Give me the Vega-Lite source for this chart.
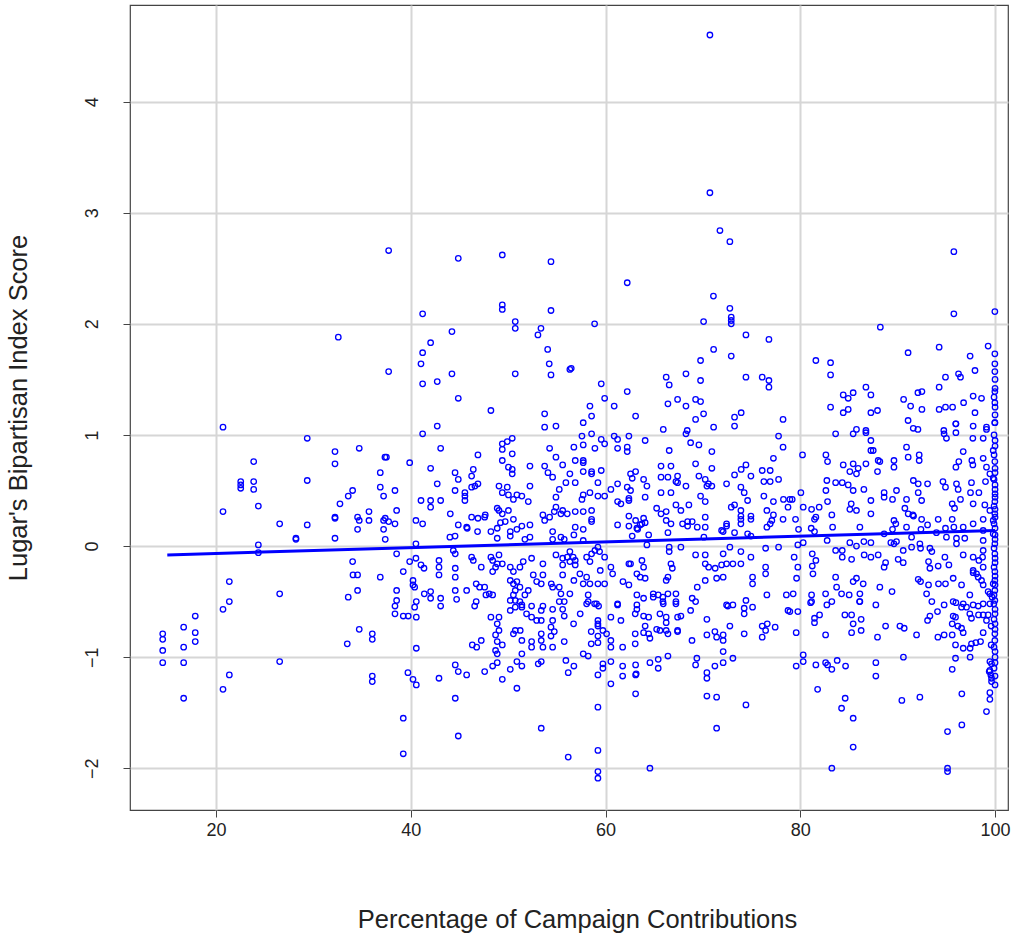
{
  "$schema": "https://vega.github.io/schema/vega-lite/v6.json",
  "width": 878,
  "height": 805,
  "autosize": "none",
  "padding": {"left": 130, "top": 5, "right": 13, "bottom": 129},
  "background": "white",
  "datasets": {
    "fit": [{"x": 15, "y": -0.08}, {"x": 100, "y": 0.14}],
    "pts": [
      {"x":14.53,"y":-0.79},{"x":14.53,"y":-0.84},{"x":14.53,"y":-0.94},{"x":14.53,"y":-1.05},{"x":16.68,"y":-0.73},{"x":16.68,"y":-0.91},{"x":16.68,"y":-1.05},{"x":16.68,"y":-1.37},{"x":17.87,"y":-0.63},{"x":17.87,"y":-0.78},{"x":17.87,"y":-0.86},{"x":20.72,"y":-0.57},{"x":21.37,"y":-0.5},{"x":21.37,"y":-1.16},{"x":20.72,"y":-1.29},{"x":26.54,"y":-1.04},{"x":33.48,"y":-0.88},
      {"x":20.72,"y":1.07},{"x":29.37,"y":0.97},{"x":32.22,"y":0.85},{"x":32.22,"y":0.74},{"x":23.87,"y":0.76},{"x":22.54,"y":0.58},{"x":22.54,"y":0.55},{"x":22.54,"y":0.52},{"x":23.87,"y":0.58},{"x":23.87,"y":0.51},{"x":29.37,"y":0.59},{"x":24.35,"y":0.36},{"x":20.72,"y":0.31},{"x":32.73,"y":0.38},{"x":33.58,"y":0.45},{"x":26.54,"y":0.2},{"x":29.37,"y":0.19},{"x":32.22,"y":0.26},{"x":32.22,"y":0.25},{"x":28.21,"y":0.07},{"x":28.21,"y":0.06},{"x":32.22,"y":0.07},{"x":24.35,"y":0.01},{"x":24.35,"y":-0.06},{"x":21.37,"y":-0.32},{"x":26.54,"y":-0.43},{"x":33.58,"y":-0.46},{"x":32.56,"y":1.88},
      {"x":70.72,"y":4.6},{"x":70.72,"y":3.18},{"x":71.75,"y":2.84},{"x":72.77,"y":2.74},
      {"x":37.73,"y":2.66},{"x":44.88,"y":2.59},{"x":49.4,"y":2.62},{"x":54.4,"y":2.56},{"x":41.22,"y":2.09},{"x":49.4,"y":2.17},{"x":49.4,"y":2.13},{"x":54.4,"y":2.12},{"x":50.73,"y":2.02},{"x":50.73,"y":1.96},{"x":53.37,"y":1.96},{"x":53.06,"y":1.9},{"x":44.23,"y":1.93},{"x":42.04,"y":1.83},{"x":41.22,"y":1.74},{"x":41.05,"y":1.64},{"x":54.06,"y":1.77},{"x":54.22,"y":1.64},{"x":56.34,"y":1.59},{"x":37.73,"y":1.57},{"x":44.23,"y":1.55},{"x":50.73,"y":1.55},{"x":54.4,"y":1.54},{"x":41.22,"y":1.46},{"x":42.72,"y":1.48},{"x":44.88,"y":1.33},{"x":48.23,"y":1.22},{"x":53.75,"y":1.19},{"x":42.72,"y":1.08},{"x":53.75,"y":1.07},{"x":54.91,"y":1.08},
      {"x":62.23,"y":2.37},{"x":71.08,"y":2.25},{"x":72.77,"y":2.14},{"x":72.91,"y":2.06},{"x":72.91,"y":2.03},{"x":72.91,"y":2.0},{"x":70.07,"y":2.02},{"x":58.88,"y":2.0},{"x":74.42,"y":1.9},{"x":76.78,"y":1.86},{"x":71.1,"y":1.77},{"x":72.91,"y":1.71},{"x":69.76,"y":1.67},{"x":56.48,"y":1.6},{"x":66.23,"y":1.52},{"x":68.26,"y":1.55},{"x":69.76,"y":1.49},{"x":66.54,"y":1.45},{"x":74.42,"y":1.52},{"x":76.09,"y":1.52},{"x":76.78,"y":1.49},{"x":76.78,"y":1.43},{"x":59.56,"y":1.46},{"x":59.91,"y":1.33},{"x":62.23,"y":1.39},{"x":58.4,"y":1.26},{"x":58.57,"y":1.17},{"x":57.71,"y":1.11},{"x":60.89,"y":1.26},{"x":63.09,"y":1.17},{"x":66.41,"y":1.28},{"x":67.4,"y":1.32},{"x":68.26,"y":1.26},{"x":69.25,"y":1.32},{"x":69.76,"y":1.3},{"x":70.07,"y":1.19},{"x":69.25,"y":1.14},{"x":73.25,"y":1.16},{"x":73.93,"y":1.2},{"x":73.25,"y":1.08},{"x":78.23,"y":1.14},{"x":65.93,"y":1.05},{"x":68.39,"y":1.04},{"x":71.1,"y":1.07},
      {"x":95.77,"y":2.65},{"x":95.77,"y":2.09},{"x":99.98,"y":2.11},{"x":88.22,"y":1.97},{"x":81.6,"y":1.67},{"x":83.11,"y":1.65},{"x":83.11,"y":1.54},{"x":91.07,"y":1.74},{"x":94.26,"y":1.79},{"x":97.44,"y":1.71},{"x":99.29,"y":1.8},{"x":99.98,"y":1.73},{"x":99.98,"y":1.64},{"x":99.98,"y":1.57},{"x":97.94,"y":1.58},{"x":94.91,"y":1.52},{"x":96.25,"y":1.55},{"x":96.45,"y":1.52},{"x":94.26,"y":1.43},{"x":86.74,"y":1.43},{"x":84.41,"y":1.36},{"x":84.92,"y":1.33},{"x":85.43,"y":1.38},{"x":87.25,"y":1.36},{"x":92.08,"y":1.38},{"x":92.49,"y":1.39},{"x":90.61,"y":1.32},{"x":91.33,"y":1.26},{"x":92.49,"y":1.23},{"x":83.11,"y":1.25},{"x":84.41,"y":1.2},{"x":84.92,"y":1.23},{"x":87.25,"y":1.2},{"x":87.93,"y":1.22},{"x":94.26,"y":1.23},{"x":94.91,"y":1.25},{"x":95.64,"y":1.25},{"x":96.77,"y":1.29},{"x":97.75,"y":1.35},{"x":98.61,"y":1.33},{"x":97.94,"y":1.2},{"x":99.98,"y":1.39},{"x":99.98,"y":1.29},{"x":99.98,"y":1.11},{"x":91.07,"y":1.13},{"x":95.97,"y":1.1},{"x":97.75,"y":1.08},{"x":99.12,"y":1.07},{"x":85.77,"y":1.05},{"x":86.74,"y":1.04},{"x":91.6,"y":1.06},{"x":92.08,"y":1.05},{"x":94.74,"y":1.04},
      {"x":41.22,"y":1.01},{"x":34.71,"y":0.88},{"x":37.35,"y":0.8},{"x":37.5,"y":0.8},{"x":43.07,"y":0.88},{"x":39.89,"y":0.75},{"x":36.87,"y":0.66},{"x":42.04,"y":0.7},{"x":46.9,"y":0.82},{"x":49.4,"y":0.92},{"x":49.91,"y":0.94},{"x":50.42,"y":0.97},{"x":49.4,"y":0.87},{"x":50.42,"y":0.83},{"x":49.4,"y":0.77},{"x":44.55,"y":0.66},{"x":44.88,"y":0.6},{"x":46.42,"y":0.69},{"x":46.25,"y":0.63},{"x":50.03,"y":0.71},{"x":50.42,"y":0.69},{"x":50.42,"y":0.65},{"x":52.24,"y":0.72},{"x":54.26,"y":0.88},{"x":54.91,"y":0.8},{"x":55.6,"y":0.73},{"x":53.75,"y":0.72},{"x":54.09,"y":0.66},{"x":54.57,"y":0.62},{"x":55.93,"y":0.57},{"x":42.72,"y":0.56},{"x":36.87,"y":0.53},{"x":37.21,"y":0.45},{"x":38.38,"y":0.5},{"x":34.03,"y":0.5},{"x":44.55,"y":0.5},{"x":45.56,"y":0.48},{"x":45.56,"y":0.45},{"x":46.25,"y":0.53},{"x":46.59,"y":0.54},{"x":46.9,"y":0.56},{"x":49.06,"y":0.54},{"x":49.91,"y":0.53},{"x":49.4,"y":0.48},{"x":50.03,"y":0.46},{"x":50.54,"y":0.42},{"x":50.9,"y":0.46},{"x":51.41,"y":0.45},{"x":52.24,"y":0.54},{"x":52.07,"y":0.4},{"x":55.25,"y":0.51},{"x":54.91,"y":0.44},{"x":54.91,"y":0.35},{"x":55.42,"y":0.29},{"x":41.05,"y":0.41},{"x":42.04,"y":0.41},{"x":42.04,"y":0.35},{"x":43.07,"y":0.41},{"x":45.56,"y":0.41},{"x":38.55,"y":0.32},{"x":35.71,"y":0.31},{"x":35.71,"y":0.23},{"x":34.54,"y":0.26},{"x":34.71,"y":0.23},{"x":34.54,"y":0.15},{"x":37.21,"y":0.23},{"x":37.38,"y":0.25},{"x":37.73,"y":0.22},{"x":37.21,"y":0.15},{"x":38.38,"y":0.2},{"x":37.38,"y":0.06},{"x":40.53,"y":0.23},{"x":41.22,"y":0.2},{"x":44.06,"y":0.29},{"x":44.88,"y":0.19},{"x":45.74,"y":0.17},{"x":45.8,"y":0.16},{"x":46.25,"y":0.26},{"x":46.9,"y":0.25},{"x":47.59,"y":0.26},{"x":47.65,"y":0.28},
      {"x":48.88,"y":0.34},{"x":49.06,"y":0.32},{"x":49.4,"y":0.29},{"x":50.03,"y":0.32},{"x":50.54,"y":0.24},{"x":49.7,"y":0.22},{"x":49.21,"y":0.21},{"x":48.88,"y":0.16},{"x":50.22,"y":0.13},{"x":50.9,"y":0.15},{"x":51.41,"y":0.18},{"x":52.24,"y":0.19},{"x":53.75,"y":0.23},{"x":54.26,"y":0.26},{"x":53.57,"y":0.28},{"x":54.74,"y":0.31},{"x":55.6,"y":0.32},{"x":56.07,"y":0.29},{"x":44.02,"y":0.08},{"x":44.55,"y":0.09},{"x":46.86,"y":0.13},{"x":48.23,"y":0.13},{"x":48.88,"y":0.07},{"x":50.22,"y":0.09},{"x":51.72,"y":0.06},{"x":52.24,"y":0.08},{"x":54.57,"y":0.13},{"x":54.57,"y":0.06},{"x":55.42,"y":0.08},{"x":55.76,"y":0.06},
      {"x":40.53,"y":0.02},{"x":38.55,"y":-0.07},{"x":34.03,"y":-0.14},{"x":39.89,"y":-0.14},{"x":40.53,"y":-0.11},{"x":41.05,"y":-0.17},{"x":41.36,"y":-0.2},{"x":42.9,"y":-0.13},{"x":42.9,"y":-0.19},{"x":42.9,"y":-0.26},{"x":44.37,"y":-0.04},{"x":44.57,"y":-0.07},{"x":44.57,"y":-0.2},{"x":44.57,"y":-0.28},{"x":46.25,"y":-0.1},{"x":46.42,"y":-0.13},{"x":47.24,"y":-0.19},{"x":48.23,"y":-0.1},{"x":48.41,"y":-0.13},{"x":49.06,"y":-0.08},{"x":48.41,"y":-0.23},{"x":48.71,"y":-0.19},{"x":48.88,"y":-0.16},{"x":49.4,"y":-0.16},{"x":50.22,"y":-0.19},{"x":50.54,"y":-0.23},{"x":51.21,"y":-0.19},{"x":51.55,"y":-0.14},{"x":52.41,"y":-0.11},{"x":53.57,"y":-0.16},{"x":54.91,"y":-0.08},{"x":55.6,"y":-0.11},{"x":55.6,"y":-0.17},{"x":56.07,"y":-0.1},{"x":55.6,"y":-0.26},{"x":52.58,"y":-0.26},{"x":53.57,"y":-0.26},{"x":34.07,"y":-0.26},{"x":34.54,"y":-0.26},{"x":34.54,"y":-0.4},{"x":36.87,"y":-0.28},{"x":39.23,"y":-0.23},{"x":40.23,"y":-0.31},{"x":40.23,"y":-0.35},{"x":40.4,"y":-0.37},{"x":38.55,"y":-0.4},{"x":38.55,"y":-0.49},{"x":38.38,"y":-0.54},{"x":41.39,"y":-0.43},{"x":42.04,"y":-0.41},{"x":42.04,"y":-0.47},{"x":43.07,"y":-0.47},{"x":43.07,"y":-0.54},{"x":44.57,"y":-0.4},{"x":44.71,"y":-0.48},{"x":45.74,"y":-0.4},{"x":46.72,"y":-0.34},{"x":47.07,"y":-0.37},{"x":47.59,"y":-0.37},{"x":48.06,"y":-0.43},{"x":48.41,"y":-0.44},{"x":47.72,"y":-0.44},{"x":46.72,"y":-0.5},{"x":46.56,"y":-0.54},
      {"x":50.22,"y":-0.31},{"x":50.54,"y":-0.34},{"x":50.9,"y":-0.32},{"x":51.21,"y":-0.37},{"x":50.73,"y":-0.4},{"x":50.54,"y":-0.44},{"x":50.22,"y":-0.49},{"x":50.73,"y":-0.49},{"x":51.21,"y":-0.5},{"x":51.72,"y":-0.44},{"x":51.41,"y":-0.53},{"x":52.07,"y":-0.4},{"x":52.93,"y":-0.32},{"x":53.4,"y":-0.34},{"x":54.43,"y":-0.34},{"x":54.57,"y":-0.37},{"x":55.25,"y":-0.37},{"x":55.42,"y":-0.43},{"x":55.76,"y":-0.5},{"x":55.25,"y":-0.5},{"x":53.57,"y":-0.54},{"x":52.41,"y":-0.54},
      {"x":38.38,"y":-0.61},{"x":39.23,"y":-0.63},{"x":39.74,"y":-0.63},{"x":40.4,"y":-0.55},{"x":40.57,"y":-0.64},{"x":40.57,"y":-0.5},{"x":48.23,"y":-0.64},{"x":49.06,"y":-0.64},{"x":48.88,"y":-0.7},{"x":49.06,"y":-0.76},{"x":48.71,"y":-0.8},{"x":48.88,"y":-0.86},{"x":49.4,"y":-0.89},{"x":46.32,"y":-0.89},{"x":46.77,"y":-0.91},{"x":47.24,"y":-0.85},{"x":48.71,"y":-0.94},{"x":48.88,"y":-0.97},{"x":48.41,"y":-1.08},{"x":48.88,"y":-1.05},{"x":50.22,"y":-0.58},{"x":50.73,"y":-0.55},{"x":51.41,"y":-0.55},{"x":51.89,"y":-0.61},{"x":52.41,"y":-0.64},{"x":52.93,"y":-0.67},{"x":53.4,"y":-0.67},{"x":53.4,"y":-0.58},{"x":54.57,"y":-0.57},{"x":54.57,"y":-0.67},{"x":54.4,"y":-0.73},{"x":54.74,"y":-0.77},{"x":54.4,"y":-0.81},{"x":53.4,"y":-0.79},{"x":53.4,"y":-0.85},{"x":53.57,"y":-0.91},{"x":52.41,"y":-0.86},{"x":52.41,"y":-0.91},{"x":51.41,"y":-0.85},{"x":50.73,"y":-0.76},{"x":51.24,"y":-0.76},{"x":50.54,"y":-0.79},{"x":54.57,"y":-0.91},{"x":55.76,"y":-0.86},{"x":55.6,"y":-0.57},{"x":55.76,"y":-0.63},{"x":34.71,"y":-0.75},{"x":36.05,"y":-0.79},{"x":36.05,"y":-0.84},{"x":40.57,"y":-0.92},{"x":44.57,"y":-1.07},{"x":44.88,"y":-1.13},{"x":45.74,"y":-1.16},{"x":47.59,"y":-1.13},{"x":50.22,"y":-1.11},{"x":50.9,"y":-1.04},{"x":51.41,"y":-0.97},{"x":51.41,"y":-1.08},{"x":53.09,"y":-1.06},{"x":53.4,"y":-1.04},{"x":49.4,"y":-1.2},{"x":50.9,"y":-1.28},{"x":55.93,"y":-1.03},{"x":56.17,"y":-1.14},{"x":39.71,"y":-1.14},{"x":40.23,"y":-1.2},{"x":40.57,"y":-1.25},{"x":42.9,"y":-1.19},{"x":36.05,"y":-1.17},{"x":36.05,"y":-1.22},{"x":44.57,"y":-1.37},{"x":39.23,"y":-1.55},{"x":44.88,"y":-1.71},{"x":39.23,"y":-1.87},{"x":53.4,"y":-1.64},{"x":56.17,"y":-1.9},
      {"x":58.06,"y":-0.52},{"x":58.88,"y":-0.52},{"x":59.29,"y":-0.54},{"x":61.24,"y":-0.53},{"x":63.22,"y":-0.53},{"x":63.22,"y":-0.57},{"x":63.05,"y":-0.61},{"x":63.91,"y":-0.63},{"x":64.43,"y":-0.64},{"x":65.93,"y":-0.52},{"x":67.23,"y":-0.52},{"x":65.59,"y":-0.61},{"x":66.23,"y":-0.64},{"x":66.23,"y":-0.69},{"x":67.4,"y":-0.64},{"x":67.74,"y":-0.63},{"x":68.74,"y":-0.58},{"x":57.4,"y":-0.61},{"x":56.72,"y":-0.7},{"x":59.22,"y":-0.67},{"x":59.22,"y":-0.7},{"x":59.22,"y":-0.72},{"x":59.73,"y":-0.76},{"x":60.11,"y":-0.79},{"x":58.53,"y":-0.77},{"x":59.22,"y":-0.81},{"x":59.22,"y":-0.87},{"x":58.53,"y":-0.88},{"x":60.55,"y":-0.85},{"x":60.55,"y":-0.91},{"x":61.58,"y":-0.67},{"x":60.55,"y":-0.64},{"x":61.76,"y":-0.91},{"x":63.05,"y":-0.79},{"x":63.91,"y":-0.78},{"x":64.43,"y":-0.79},{"x":64.56,"y":-0.83},{"x":63.05,"y":-0.88},{"x":64.07,"y":-0.72},{"x":65.25,"y":-0.75},{"x":65.59,"y":-0.76},{"x":66.23,"y":-0.76},{"x":66.41,"y":-0.79},{"x":67.4,"y":-0.76},{"x":67.4,"y":-0.77},{"x":68.88,"y":-0.85},{"x":70.41,"y":-0.66},{"x":70.41,"y":-0.8},{"x":71.23,"y":-0.77},{"x":71.41,"y":-0.82},{"x":72.08,"y":-0.8},{"x":72.08,"y":-0.85},{"x":72.77,"y":-0.72},{"x":72.56,"y":-0.54},{"x":73.08,"y":-0.53},{"x":74.24,"y":-0.56},{"x":74.24,"y":-0.61},{"x":75.1,"y":-0.55},{"x":76.09,"y":-0.72},{"x":76.61,"y":-0.7},{"x":76.44,"y":-0.76},{"x":77.42,"y":-0.73},{"x":76.09,"y":-0.82},{"x":74.24,"y":-0.79},{"x":78.74,"y":-0.58},{"x":57.71,"y":-0.97},{"x":58.22,"y":-0.99},{"x":56.75,"y":-1.08},{"x":59.73,"y":-1.06},{"x":59.73,"y":-1.1},{"x":59.22,"y":-1.16},{"x":60.55,"y":-1.04},{"x":60.55,"y":-1.24},{"x":61.76,"y":-1.08},{"x":61.76,"y":-1.17},{"x":63.09,"y":-1.07},{"x":63.09,"y":-1.16},{"x":63.15,"y":-1.15},{"x":63.09,"y":-1.33},{"x":64.56,"y":-1.05},{"x":65.41,"y":-1.02},{"x":65.41,"y":-1.1},{"x":66.41,"y":-0.99},{"x":69.38,"y":-1.01},{"x":69.25,"y":-1.07},{"x":70.41,"y":-1.14},{"x":70.41,"y":-1.19},{"x":71.23,"y":-1.08},{"x":72.08,"y":-0.95},{"x":72.08,"y":-1.05},{"x":73.08,"y":-1.01},{"x":70.41,"y":-1.35},{"x":71.41,"y":-1.36},{"x":74.42,"y":-1.43},{"x":71.41,"y":-1.64},{"x":59.22,"y":-1.45},{"x":59.22,"y":-1.84},{"x":59.22,"y":-2.03},{"x":59.22,"y":-2.09},{"x":64.56,"y":-2.0},
      {"x":81.06,"y":-0.51},{"x":82.73,"y":-0.53},{"x":83.24,"y":-0.5},{"x":86.09,"y":-0.5},{"x":87.76,"y":-0.53},{"x":79.75,"y":-0.59},{"x":78.93,"y":-0.59},{"x":81.46,"y":-0.65},{"x":81.46,"y":-0.69},{"x":81.98,"y":-0.62},{"x":84.58,"y":-0.62},{"x":85.27,"y":-0.62},{"x":85.43,"y":-0.7},{"x":86.25,"y":-0.66},{"x":86.25,"y":-0.76},{"x":85.27,"y":-0.78},{"x":79.58,"y":-0.78},{"x":82.6,"y":-0.8},{"x":87.93,"y":-0.82},{"x":88.76,"y":-0.72},{"x":90.23,"y":-0.72},{"x":90.67,"y":-0.74},{"x":91.94,"y":-0.8},{"x":93.07,"y":-0.67},{"x":93.31,"y":-0.63},{"x":94.09,"y":-0.59},{"x":94.77,"y":-0.53},{"x":95.7,"y":-0.5},{"x":96.56,"y":-0.55},{"x":97.07,"y":-0.55},{"x":97.75,"y":-0.53},{"x":98.27,"y":-0.54},{"x":98.78,"y":-0.52},{"x":95.7,"y":-0.63},{"x":95.94,"y":-0.64},{"x":95.6,"y":-0.7},{"x":96.18,"y":-0.72},{"x":96.56,"y":-0.74},{"x":96.73,"y":-0.78},{"x":94.13,"y":-0.82},{"x":94.77,"y":-0.8},{"x":95.6,"y":-0.8},{"x":97.41,"y":-0.61},{"x":97.58,"y":-0.65},{"x":98.3,"y":-0.62},{"x":98.78,"y":-0.62},{"x":99.29,"y":-0.62},{"x":99.12,"y":-0.67},{"x":99.6,"y":-0.72},{"x":99.98,"y":-0.79},{"x":99.98,"y":-0.85},{"x":98.78,"y":-0.78},{"x":98.51,"y":-0.86},{"x":98.03,"y":-0.87},{"x":97.58,"y":-0.88},{"x":99.6,"y":-0.89},{"x":100,"y":-0.95},{"x":95.94,"y":-0.89},{"x":96.73,"y":-0.92},{"x":97.44,"y":-0.92},{"x":97.44,"y":-1.0},{"x":95.94,"y":-1.01},{"x":95.6,"y":-1.11},{"x":90.59,"y":-1.0},{"x":87.76,"y":-1.05},{"x":87.76,"y":-1.17},{"x":84.65,"y":-1.08},{"x":83.79,"y":-1.03},{"x":82.6,"y":-1.05},{"x":82.8,"y":-1.07},{"x":83.24,"y":-1.11},{"x":81.6,"y":-1.07},{"x":80.3,"y":-0.98},{"x":80.3,"y":-1.04},{"x":79.58,"y":-1.08},{"x":81.78,"y":-1.29},{"x":84.61,"y":-1.37},{"x":84.24,"y":-1.46},{"x":85.43,"y":-1.55},{"x":85.43,"y":-1.81},{"x":83.24,"y":-2.0},{"x":90.43,"y":-1.39},{"x":92.28,"y":-1.36},{"x":96.59,"y":-1.33},{"x":96.59,"y":-1.61},{"x":95.12,"y":-1.67},{"x":95.12,"y":-2.0},{"x":95.12,"y":-2.03},{"x":99.47,"y":-1.04},{"x":99.64,"y":-1.06},{"x":99.47,"y":-1.12},{"x":99.4,"y":-1.13},{"x":99.57,"y":-1.16},{"x":99.64,"y":-1.19},{"x":99.64,"y":-1.22},{"x":99.47,"y":-1.32},{"x":99.47,"y":-1.38},{"x":99.12,"y":-1.49},{"x":100,"y":-1.05},
      {"x":57.58,"y":0.99},{"x":58.57,"y":1.01},{"x":56.75,"y":0.89},{"x":57.71,"y":0.91},{"x":58.91,"y":0.88},{"x":56.89,"y":0.77},{"x":57.71,"y":0.77},{"x":57.71,"y":0.75},{"x":58.57,"y":0.67},{"x":58.57,"y":0.65},{"x":57.71,"y":0.67},{"x":59.56,"y":0.68},{"x":56.34,"y":0.65},{"x":56.89,"y":0.57},{"x":59.22,"y":0.57},{"x":58.4,"y":0.48},{"x":57.71,"y":0.46},{"x":57.58,"y":0.42},{"x":59.22,"y":0.45},{"x":59.91,"y":0.45},{"x":56.89,"y":0.31},{"x":57.71,"y":0.31},{"x":58.57,"y":0.32},{"x":58.57,"y":0.24},{"x":58.57,"y":0.22},{"x":56.89,"y":0.17},{"x":57.71,"y":0.15},{"x":56.75,"y":0.1},{"x":57.71,"y":0.05},{"x":59.56,"y":0.96},{"x":59.91,"y":0.92},{"x":60.89,"y":0.99},{"x":61.24,"y":0.96},{"x":62.4,"y":0.99},{"x":62.23,"y":0.89},{"x":62.23,"y":0.85},{"x":61.24,"y":0.88},{"x":64.07,"y":0.95},{"x":66.54,"y":0.86},{"x":68.26,"y":1.01},{"x":68.74,"y":0.93},{"x":69.59,"y":0.91},{"x":70.92,"y":0.85},{"x":69.25,"y":0.74},{"x":70.92,"y":0.7},{"x":65.7,"y":0.72},{"x":66.72,"y":0.72},{"x":62.57,"y":0.65},{"x":63.09,"y":0.67},{"x":62.74,"y":0.61},{"x":63.91,"y":0.6},{"x":64.25,"y":0.54},{"x":61.24,"y":0.56},{"x":60.55,"y":0.51},{"x":62.23,"y":0.53},{"x":62.57,"y":0.5},{"x":62.4,"y":0.43},{"x":62.4,"y":0.41},{"x":61.58,"y":0.38},{"x":61.24,"y":0.4},{"x":64.07,"y":0.44},{"x":65.7,"y":0.62},{"x":66.41,"y":0.62},{"x":67.4,"y":0.63},{"x":67.23,"y":0.58},{"x":67.4,"y":0.57},{"x":68.26,"y":0.54},{"x":65.7,"y":0.48},{"x":66.72,"y":0.48},{"x":69.59,"y":0.63},{"x":70.24,"y":0.6},{"x":70.41,"y":0.54},{"x":70.92,"y":0.54},{"x":70.57,"y":0.56},{"x":69.76,"y":0.45},{"x":70.24,"y":0.4},{"x":72.43,"y":0.56},{"x":73.25,"y":0.64},{"x":73.93,"y":0.69},{"x":74.42,"y":0.73},{"x":74.93,"y":0.63},{"x":73.9,"y":0.53},{"x":74.24,"y":0.48},{"x":74.59,"y":0.41},{"x":76.09,"y":0.68},{"x":76.91,"y":0.68},{"x":76.26,"y":0.58},{"x":76.91,"y":0.58},{"x":77.77,"y":0.6},{"x":76.26,"y":0.45},{"x":77.24,"y":0.4},{"x":78.27,"y":0.42},{"x":78.93,"y":0.42},{"x":77.24,"y":0.79},{"x":78.23,"y":0.89},{"x":77.77,"y":0.99},
      {"x":65.25,"y":0.34},{"x":65.7,"y":0.29},{"x":66.23,"y":0.31},{"x":66.23,"y":0.23},{"x":66.72,"y":0.2},{"x":67.23,"y":0.37},{"x":67.74,"y":0.32},{"x":68.56,"y":0.37},{"x":67.91,"y":0.2},{"x":68.43,"y":0.22},{"x":68.43,"y":0.18},{"x":68.9,"y":0.22},{"x":69.42,"y":0.17},{"x":70.24,"y":0.26},{"x":70.24,"y":0.17},{"x":72.43,"y":0.2},{"x":72.43,"y":0.18},{"x":73.9,"y":0.32},{"x":73.9,"y":0.27},{"x":73.9,"y":0.24},{"x":73.9,"y":0.2},{"x":74.93,"y":0.27},{"x":74.93,"y":0.24},{"x":72.91,"y":0.35},{"x":73.25,"y":0.37},{"x":71.92,"y":0.14},{"x":72.08,"y":0.13},{"x":73.25,"y":0.12},{"x":74.59,"y":0.11},{"x":74.93,"y":0.09},{"x":76.57,"y":0.32},{"x":77.24,"y":0.28},{"x":77.08,"y":0.23},{"x":76.91,"y":0.2},{"x":76.57,"y":0.17},{"x":78.23,"y":0.24},{"x":78.74,"y":0.35},{"x":61.24,"y":0.19},{"x":62.4,"y":0.18},{"x":62.74,"y":0.09},{"x":63.22,"y":0.16},{"x":63.3,"y":0.15},{"x":63.56,"y":0.19},{"x":63.91,"y":0.25},{"x":64.07,"y":0.21},{"x":64.43,"y":0.1},{"x":62.4,"y":0.27},{"x":63.09,"y":0.23},{"x":63.74,"y":0.2},{"x":66.41,"y":0.12},{"x":70.1,"y":0.08},
      {"x":56.34,"y":-0.05},{"x":56.68,"y":-0.1},{"x":56.34,"y":-0.14},{"x":56.89,"y":-0.13},{"x":56.89,"y":-0.17},{"x":58.06,"y":-0.1},{"x":58.57,"y":-0.07},{"x":58.91,"y":-0.04},{"x":59.22,"y":-0.01},{"x":59.39,"y":-0.05},{"x":59.91,"y":-0.1},{"x":58.4,"y":-0.14},{"x":59.46,"y":-0.22},{"x":60.55,"y":-0.19},{"x":60.73,"y":-0.25},{"x":62.4,"y":-0.16},{"x":62.57,"y":-0.16},{"x":63.74,"y":-0.13},{"x":63.91,"y":-0.19},{"x":64.25,"y":0.01},{"x":66.54,"y":-0.01},{"x":66.54,"y":-0.05},{"x":67.74,"y":-0.01},{"x":66.72,"y":-0.16},{"x":66.86,"y":-0.2},{"x":69.25,"y":-0.08},{"x":70.24,"y":-0.08},{"x":70.24,"y":-0.16},{"x":70.59,"y":-0.19},{"x":71.26,"y":-0.2},{"x":71.92,"y":-0.17},{"x":72.43,"y":-0.16},{"x":73.08,"y":-0.16},{"x":72.08,"y":-0.07},{"x":72.77,"y":-0.01},{"x":73.9,"y":-0.05},{"x":73.9,"y":-0.16},{"x":74.93,"y":-0.1},{"x":76.44,"y":-0.02},{"x":77.77,"y":-0.01},{"x":76.44,"y":-0.19},{"x":57.37,"y":-0.25},{"x":58.06,"y":-0.28},{"x":57.71,"y":-0.34},{"x":58.4,"y":-0.34},{"x":59.22,"y":-0.34},{"x":59.91,"y":-0.34},{"x":56.75,"y":-0.31},{"x":61.79,"y":-0.32},{"x":62.4,"y":-0.35},{"x":63.22,"y":-0.25},{"x":63.56,"y":-0.28},{"x":64.07,"y":-0.29},{"x":66.41,"y":-0.28},{"x":66.23,"y":-0.31},{"x":70.24,"y":-0.31},{"x":71.41,"y":-0.29},{"x":72.08,"y":-0.28},{"x":75.1,"y":-0.28},{"x":75.1,"y":-0.34},{"x":76.44,"y":-0.25},{"x":69.42,"y":-0.37},{"x":56.34,"y":-0.43},{"x":58.22,"y":-0.44},{"x":58.22,"y":-0.5},{"x":59.08,"y":-0.52},{"x":61.24,"y":-0.52},{"x":63.22,"y":-0.44},{"x":63.91,"y":-0.47},{"x":64.9,"y":-0.43},{"x":64.9,"y":-0.46},{"x":65.41,"y":-0.44},{"x":65.89,"y":-0.46},{"x":66.41,"y":-0.43},{"x":67.23,"y":-0.43},{"x":67.23,"y":-0.5},{"x":65.89,"y":-0.5},{"x":68.9,"y":-0.47},{"x":69.25,"y":-0.5},{"x":72.43,"y":-0.53},{"x":74.42,"y":-0.49},{"x":76.57,"y":-0.44},{"x":78.57,"y":-0.44},
      {"x":83.63,"y":1.01},{"x":85.43,"y":1.01},{"x":86.74,"y":1.02},{"x":87.25,"y":0.95},{"x":87.25,"y":0.86},{"x":87.49,"y":0.86},{"x":88.0,"y":0.77},{"x":88.17,"y":0.76},{"x":87.93,"y":0.67},{"x":86.74,"y":0.74},{"x":85.43,"y":0.74},{"x":84.41,"y":0.73},{"x":85.09,"y":0.67},{"x":85.77,"y":0.65},{"x":85.94,"y":0.7},{"x":82.63,"y":0.82},{"x":82.8,"y":0.76},{"x":80.23,"y":0.82},{"x":82.73,"y":0.59},{"x":83.63,"y":0.57},{"x":84.31,"y":0.57},{"x":84.92,"y":0.55},{"x":85.43,"y":0.5},{"x":86.53,"y":0.51},{"x":82.63,"y":0.5},{"x":80.06,"y":0.48},{"x":79.17,"y":0.42},{"x":80.3,"y":0.35},{"x":81.16,"y":0.33},{"x":81.94,"y":0.35},{"x":82.8,"y":0.4},{"x":85.23,"y":0.38},{"x":85.09,"y":0.33},{"x":85.77,"y":0.32},{"x":87.25,"y":0.41},{"x":87.25,"y":0.29},{"x":88.61,"y":0.48},{"x":88.61,"y":0.44},{"x":89.47,"y":0.42},{"x":89.88,"y":0.5},{"x":90.91,"y":0.42},{"x":90.91,"y":0.89},{"x":91.08,"y":0.8},{"x":92.21,"y":0.82},{"x":92.21,"y":0.77},{"x":89.62,"y":0.77},{"x":89.62,"y":0.71},{"x":91.61,"y":0.59},{"x":92.11,"y":0.56},{"x":93.07,"y":0.56},{"x":92.11,"y":0.48},{"x":92.46,"y":0.41},{"x":90.74,"y":0.34},{"x":91.08,"y":0.29},{"x":91.56,"y":0.28},{"x":91.63,"y":0.27},{"x":92.46,"y":0.24},{"x":90.91,"y":0.17},{"x":89.62,"y":0.23},{"x":89.81,"y":0.2},{"x":89.47,"y":0.15},{"x":88.61,"y":0.11},{"x":86.12,"y":0.17},{"x":83.32,"y":0.17},{"x":83.24,"y":0.28},{"x":81.6,"y":0.26},{"x":81.46,"y":0.24},{"x":79.51,"y":0.24},{"x":79.82,"y":0.15},{"x":81.12,"y":0.16},{"x":81.46,"y":0.13},
      {"x":94.65,"y":0.58},{"x":94.91,"y":0.53},{"x":94.77,"y":1.01},{"x":95.01,"y":0.97},{"x":95.98,"y":1.02},{"x":95.98,"y":1.1},{"x":97.72,"y":0.97},{"x":98.78,"y":0.97},{"x":99.12,"y":1.05},{"x":99.98,"y":1.11},{"x":96.73,"y":0.85},{"x":96.28,"y":0.76},{"x":95.98,"y":0.71},{"x":97.62,"y":0.77},{"x":97.72,"y":0.73},{"x":98.78,"y":0.79},{"x":99.12,"y":0.71},{"x":99.47,"y":0.65},{"x":99.81,"y":0.61},{"x":99.02,"y":0.58},{"x":99.81,"y":0.86},{"x":99.98,"y":0.76},{"x":97.58,"y":0.57},{"x":97.48,"y":0.48},{"x":98.34,"y":0.48},{"x":96.04,"y":0.56},{"x":96.21,"y":0.51},{"x":95.6,"y":0.38},{"x":95.84,"y":0.34},{"x":96.45,"y":0.42},{"x":97.75,"y":0.38},{"x":98.95,"y":0.37},{"x":99.98,"y":0.4},{"x":99.47,"y":0.32},{"x":99.98,"y":0.29},{"x":94.16,"y":0.24},{"x":95.6,"y":0.24},{"x":95.77,"y":0.17},{"x":96.73,"y":0.17},{"x":97.75,"y":0.2},{"x":98.78,"y":0.24},{"x":99.81,"y":0.23},{"x":100,"y":0.16},{"x":94.91,"y":0.16},{"x":93.98,"y":0.12},{"x":93.07,"y":0.19},{"x":92.39,"y":0.15},{"x":98.78,"y":0.14},{"x":100,"y":0.55},{"x":100,"y":0.47},
      {"x":79.75,"y":0.01},{"x":80.3,"y":0.03},{"x":82.76,"y":0.05},{"x":83.63,"y":-0.04},{"x":84.31,"y":-0.04},{"x":84.31,"y":-0.1},{"x":85.27,"y":-0.12},{"x":85.09,"y":0.03},{"x":85.77,"y":0.0},{"x":86.53,"y":0.04},{"x":87.25,"y":0.03},{"x":86.56,"y":-0.08},{"x":87.25,"y":-0.1},{"x":88.0,"y":-0.08},{"x":88.76,"y":-0.15},{"x":88.61,"y":-0.19},{"x":89.3,"y":0.03},{"x":89.62,"y":0.02},{"x":89.88,"y":0.04},{"x":90.05,"y":-0.12},{"x":90.57,"y":-0.04},{"x":90.57,"y":-0.15},{"x":91.43,"y":-0.01},{"x":91.43,"y":0.08},{"x":92.28,"y":0.02},{"x":92.35,"y":-0.02},{"x":93.31,"y":-0.02},{"x":93.51,"y":-0.05},{"x":93.17,"y":-0.14},{"x":93.31,"y":-0.2},{"x":94.16,"y":-0.18},{"x":94.85,"y":-0.1},{"x":95.26,"y":-0.17},{"x":96.04,"y":0.02},{"x":96.73,"y":-0.08},{"x":97.75,"y":-0.1},{"x":97.75,"y":-0.22},{"x":98.34,"y":-0.13},{"x":98.72,"y":-0.1},{"x":98.78,"y":-0.19},{"x":98.78,"y":-0.04},{"x":95.01,"y":0.08},{"x":96.04,"y":0.07},{"x":96.89,"y":0.07},{"x":98.78,"y":0.05},{"x":99.81,"y":0.11},{"x":99.98,"y":0.02},{"x":99.98,"y":-0.07},{"x":79.37,"y":-0.1},{"x":79.75,"y":-0.19},{"x":81.23,"y":-0.07},{"x":81.23,"y":-0.18},{"x":81.3,"y":-0.25},{"x":81.6,"y":-0.13},{"x":79.62,"y":-0.29},{"x":79.27,"y":-0.43},{"x":81.16,"y":-0.44},{"x":81.16,"y":-0.5},{"x":82.6,"y":-0.43},{"x":83.63,"y":-0.28},{"x":83.73,"y":-0.37},{"x":84.24,"y":-0.43},{"x":85.02,"y":-0.44},{"x":85.43,"y":-0.32},{"x":85.77,"y":-0.29},{"x":86.12,"y":-0.43},{"x":86.12,"y":-0.5},{"x":86.46,"y":-0.34},{"x":88.17,"y":-0.37},{"x":89.42,"y":-0.41},{"x":92.11,"y":-0.3},{"x":92.35,"y":-0.32},{"x":92.97,"y":-0.43},{"x":93.17,"y":-0.35},{"x":93.51,"y":-0.5},{"x":94.19,"y":-0.34},{"x":94.91,"y":-0.34},{"x":95.7,"y":-0.29},{"x":95.98,"y":-0.51},{"x":96.56,"y":-0.35},{"x":97.41,"y":-0.44},{"x":97.75,"y":-0.24},{"x":98.1,"y":-0.25},{"x":98.27,"y":-0.28},{"x":98.61,"y":-0.31},{"x":98.78,"y":-0.35},{"x":99.29,"y":-0.41},{"x":99.47,"y":-0.43},{"x":99.81,"y":-0.34},{"x":99.7,"y":-0.46},{"x":99.98,"y":-0.23},{"x":99.98,"y":-0.31},{"x":99.98,"y":-0.4},{"x":99.98,"y":-0.49},{"x":99.88,"y":-0.52},{"x":96.73,"y":-0.52},{"x":99.47,"y":-0.52},
      {"x":100,"y":1.5},{"x":100,"y":1.42},{"x":99.9,"y":1.34},{"x":100,"y":1.25},{"x":100,"y":1.18},{"x":99.9,"y":1.0},{"x":100,"y":0.95},{"x":100,"y":0.9},{"x":99.9,"y":0.82},{"x":100,"y":0.7},{"x":100,"y":0.66},{"x":99.9,"y":0.6},{"x":100,"y":0.51},{"x":100,"y":0.44},{"x":99.9,"y":0.36},{"x":100,"y":0.33},{"x":100,"y":0.26},{"x":99.9,"y":0.2},{"x":100,"y":0.1},{"x":100,"y":0.06},{"x":99.9,"y":-0.02},{"x":100,"y":-0.11},{"x":100,"y":-0.15},{"x":99.9,"y":-0.19},{"x":100,"y":-0.27},{"x":100,"y":-0.35},{"x":99.9,"y":-0.44},{"x":100,"y":-0.57},{"x":100,"y":-0.61},{"x":99.9,"y":-0.66},{"x":100,"y":-0.7},{"x":100,"y":-0.75},{"x":99.9,"y":-0.91},{"x":100,"y":-1.0},{"x":99.9,"y":-1.1},{"x":100,"y":-1.17},{"x":100,"y":-1.25}
    ]
  },
  "layer": [
    {
      "data": {"name": "pts"},
      "mark": {"type": "point", "shape": "circle", "filled": false, "size": 30, "stroke": "#0000ff", "strokeWidth": 1.3, "opacity": 1},
      "encoding": {
        "x": {"field": "x", "type": "quantitative", "scale": {"domain": [11.17, 101.33], "nice": false, "zero": false},
          "axis": {"values": [20, 40, 60, 80, 100], "format": "d", "title": "Percentage of Campaign Contributions", "labelPadding": 4, "titlePadding": 68, "titleX": 447}},
        "y": {"field": "y", "type": "quantitative", "scale": {"domain": [-2.376, 4.87], "nice": false, "zero": false},
          "axis": {"values": [-2, -1, 0, 1, 2, 3, 4], "format": "d", "title": "Lugar's Bipartisan Index Score", "labelAngle": -90, "labelAlign": "center", "labelBaseline": "bottom", "labelPadding": 22, "titlePadding": 52}}
      }
    },
    {
      "data": {"name": "fit"},
      "mark": {"type": "line", "color": "#0000ff", "strokeWidth": 3},
      "encoding": {
        "x": {"field": "x", "type": "quantitative"},
        "y": {"field": "y", "type": "quantitative"}
      }
    }
  ],
  "config": {
    "view": {"stroke": "#444444", "strokeWidth": 1.2},
    "axis": {"domain": false, "grid": true, "gridColor": "#d6d6d6", "gridWidth": 2, "ticks": true, "tickColor": "#444444", "tickSize": 7, "tickWidth": 1,
      "labelFont": "Liberation Sans", "labelFontSize": 18, "labelColor": "#222222",
      "titleFont": "Liberation Sans", "titleFontSize": 25.5, "titleFontWeight": "normal", "titleColor": "#222222"}
  }
}
